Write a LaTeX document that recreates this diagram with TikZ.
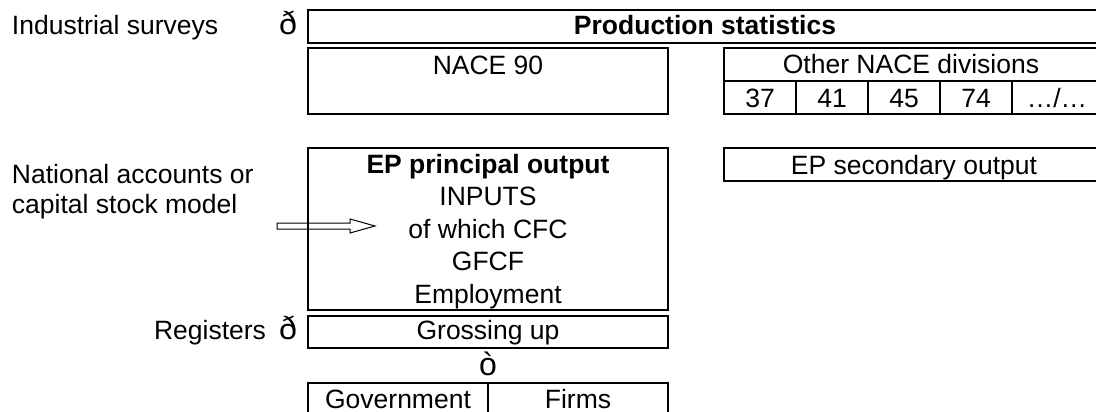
\documentclass[tikz,border=0pt]{standalone}
\usepackage{fontspec}
\setmainfont{Liberation Sans}
\begin{document}
\begin{tikzpicture}[x=1pt,y=-1pt,
  txt/.style={font=\fontsize{26.5}{30}\selectfont, inner sep=0pt, outer sep=0pt, anchor=base},
  btxt/.style={txt, font=\fontsize{26.5}{30}\selectfont\bfseries},
  sym/.style={txt, font=\fontsize{32}{34}\selectfont},
  bx/.style={draw, line width=1.6pt},
  hollow/.style={draw, line width=1pt, line join=miter}]
\useasboundingbox (0,0) rectangle (1096,412);
\clip (0,0) rectangle (1096,412);

% boxes
\draw[bx] (308,10) rectangle (1102,43);
\draw[bx] (308,48) rectangle (668,114);
\draw[bx] (724,48) rectangle (1100,114);
\draw[bx] (724,81) -- (1100,81);
\foreach \xx in {796,868,940,1012} \draw[bx] (\xx,81) -- (\xx,114);
\draw[bx] (308,148) rectangle (668,310);
\draw[bx] (724,148) rectangle (1100,181);
\draw[bx] (308,316) rectangle (668,348);
\draw[bx] (308,383) rectangle (668,425);
\draw[bx] (488,383) -- (488,425);

% texts
\node[txt, anchor=base west] (ind) at (12,35) {Industrial surveys};
\node[sym] (arr1) at (288,35) {ð};
\node[btxt] (prod) at (705,35) {Production statistics};
\node[txt] (nace) at (488,75) {NACE 90};
\node[txt] (other) at (911,74) {Other NACE divisions};
\node[txt] (c37) at (760,107) {37};
\node[txt] (c41) at (832,107) {41};
\node[txt] (c45) at (904,107) {45};
\node[txt] (c74) at (976,107) {74};
\node[txt] (cdots) at (1057,107) {…/…};

\node[btxt] (epp) at (488,173) {EP principal output};
\node[txt] (inputs) at (488,205.5) {INPUTS};
\node[txt] (cfc) at (488,238) {of which CFC};
\node[txt] (gfcf) at (488,270.5) {GFCF};
\node[txt] (empl) at (488,303) {Employment};
\node[txt] (eps) at (914,174) {EP secondary output};

\node[txt, anchor=base west] (na1) at (12,183) {National accounts or};
\node[txt, anchor=base west] (na2) at (12,213) {capital stock model};

\node[txt, anchor=base east] (reg) at (266,339) {Registers};
\node[sym] (arr2) at (288,339) {ð};
\node[txt] (gross) at (488,339) {Grossing up};
\node[sym] (arr3) at (488,375) {ò};
\node[txt] (gov) at (398,408) {Government};
\node[txt] (firms) at (578,408) {Firms};

% hollow arrow
\coordinate (aS) at (277,226);
\coordinate (aE) at (375,226);
\draw[hollow] (aS |- 0,223) -- (350,223) -- (350,219) -- (aE) -- (350,233) -- (350,229) -- (aS |- 0,229) -- cycle;
\end{tikzpicture}
\end{document}
